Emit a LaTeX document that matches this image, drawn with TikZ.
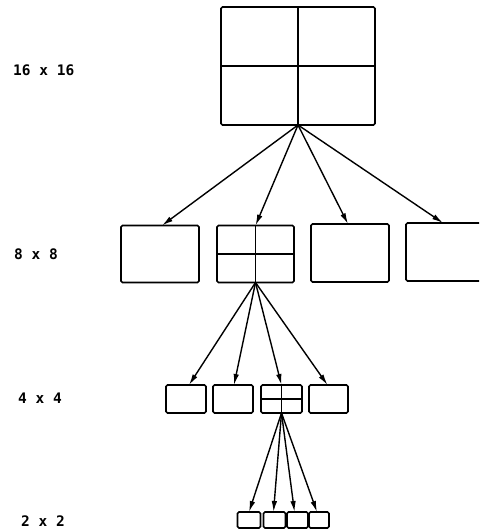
\documentclass[tikz,border=0pt]{standalone}
\usepackage{fontspec}
\newfontfamily\lblfont{DejaVu Sans Mono}
\usetikzlibrary{arrows.meta}
\begin{document}
\begin{tikzpicture}[x=1pt,y=-1pt,
  blk/.style={draw,line width=1.7pt,rounded corners=1.5pt,inner sep=0pt,outer sep=0pt},
  lbl/.style={anchor=west,inner sep=0pt,font=\lblfont\bfseries\fontsize{14.5}{16}\selectfont},
  arr/.style={line width=1.4pt,-{Latex[length=11pt,width=5.5pt]}},
  grid/.style={line width=1.5pt}]
\useasboundingbox (0,0) rectangle (479,532);
\clip (0,0) rectangle (479,532);
% labels
\node[lbl] (l16) at (13,70) {16 x 16};
\node[lbl] (l8) at (14,254) {8 x 8};
\node[lbl] (l4) at (18,398) {4 x 4};
\node[lbl] (l2) at (21,521) {2 x 2};
% 16x16
\node[blk,minimum width=154pt,minimum height=118pt] (top) at (298,66) {};
\draw[grid] (top.north) -- (top.south);
\draw[grid] (top.west) -- (top.east);
% 8x8
\node[blk,minimum width=78pt,minimum height=57pt] (b81) at (160,254) {};
\node[blk,minimum width=77pt,minimum height=57pt] (b82) at (255.5,254) {};
\node[blk,minimum width=78pt,minimum height=58pt] (b83) at (350,253) {};
\node[blk,minimum width=78pt,minimum height=58pt] (b84) at (445,252) {};
\draw[grid] (b82.north) -- (b82.south);
\draw[grid] (b82.west) -- (b82.east);
% 4x4
\node[blk,minimum width=40pt,minimum height=28pt] (b41) at (186,399) {};
\node[blk,minimum width=40pt,minimum height=28pt] (b42) at (233,399) {};
\node[blk,minimum width=41pt,minimum height=28pt] (b43) at (281.5,399) {};
\node[blk,minimum width=39pt,minimum height=28pt] (b44) at (328.5,399) {};
\draw[grid] (b43.north) -- (b43.south);
\draw[grid] (b43.west) -- (b43.east);
% 2x2
\node[blk,minimum width=23pt,minimum height=16pt] (c1) at (249,520) {};
\node[blk,minimum width=22pt,minimum height=16pt] (c2) at (274.5,520) {};
\node[blk,minimum width=21pt,minimum height=16pt] (c3) at (297.5,520) {};
\node[blk,minimum width=20pt,minimum height=16pt] (c4) at (319,520) {};
% arrows
\draw[arr] (top.south) -- ([xshift=2pt]b81.north);
\draw[arr] (top.south) -- (b82.north);
\draw[arr] (top.south) -- ([xshift=-2pt]b83.north);
\draw[arr] (top.south) -- ([xshift=-2pt]b84.north);
\draw[arr] (b82.south) -- ([xshift=3pt]b41.north);
\draw[arr] (b82.south) -- ([xshift=1pt]b42.north);
\draw[arr] (b82.south) -- (b43.north);
\draw[arr] (b82.south) -- ([xshift=-1pt]b44.north);
\draw[arr] (b43.south) -- (c1.north);
\draw[arr] (b43.south) -- ([xshift=-1pt]c2.north);
\draw[arr] (b43.south) -- ([xshift=-3pt]c3.north);
\draw[arr] (b43.south) -- ([xshift=-2pt]c4.north);
\end{tikzpicture}
\end{document}
